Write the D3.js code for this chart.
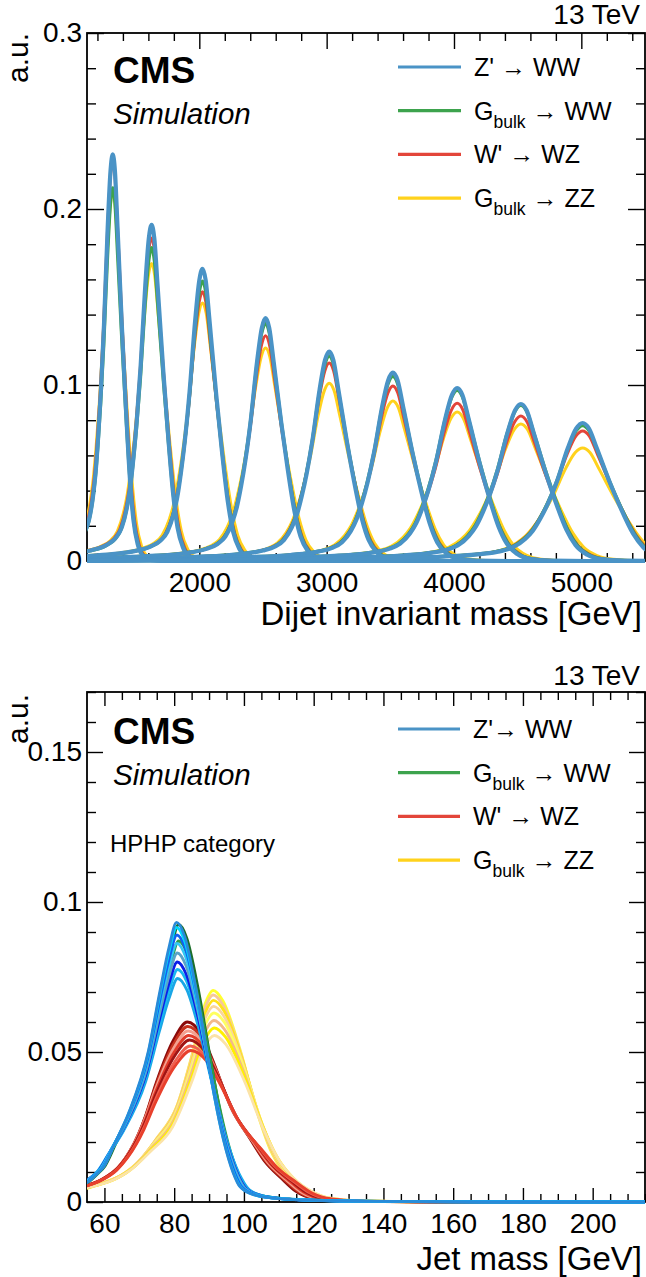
<!DOCTYPE html>
<html><head><meta charset="utf-8">
<script src="https://cdn.jsdelivr.net/npm/d3@7"></script>
<style>
html,body{margin:0;padding:0;background:#fff;}
svg{display:block;}
</style>
</head><body>
<svg id="c" width="646" height="1277"></svg>
<script>
// ===================== DATA =====================
// ---- top panel: dijet invariant mass ----
const topSeriesNames = ["Z' \u2192 WW", "G|bulk| \u2192 WW", "W' \u2192 WZ", "G|bulk| \u2192 ZZ"];
const topSeriesColors = ["#4a93c6", "#3da34d", "#e3453a", "#ffd21c"];
const topPeakMass = [1320, 1625, 2025, 2520, 3020, 3520, 4025, 4525, 5010];   // GeV, peak position
const topPeakZprimeWW = [0.231, 0.191, 0.166, 0.138, 0.119, 0.107, 0.0983, 0.0892, 0.0784];
const topPeakGbulkWW  = [0.212, 0.178, 0.159, 0.135, 0.1165, 0.105, 0.097, 0.0885, 0.077];
const topPeakWprimeWZ = [0.227, 0.1835, 0.153, 0.128, 0.1125, 0.0994, 0.0896, 0.0824, 0.0739];
const topPeakGbulkZZ  = [0.210, 0.169, 0.1466, 0.121, 0.101, 0.0909, 0.0846, 0.0778, 0.0642];
// relative width of each mass point (peak width / M, relative to the 5 TeV shape)
const topMassWidth = [1.30, 1.32, 1.25, 1.15, 1.08, 1.04, 1.02, 1.00, 1.00];
// relative width of each signal (blue, green, red, yellow)
const topSeriesWidth = [1.00, 1.03, 1.06, 1.15];
// shape: [ (m - M)/M , value / peak ]
const topShape = [
  [-0.80, 0.000], [-0.60, 0.006], [-0.45, 0.012], [-0.32, 0.020], [-0.22, 0.032],
  [-0.16, 0.050], [-0.13, 0.070], [-0.109, 0.10], [-0.090, 0.16], [-0.078, 0.22],
  [-0.066, 0.31], [-0.054, 0.42], [-0.040, 0.58], [-0.023, 0.82], [-0.010, 0.96],
  [0.000, 1.000], [0.010, 0.96], [0.022, 0.82], [0.043, 0.565], [0.059, 0.39],
  [0.079, 0.20], [0.095, 0.10], [0.115, 0.04], [0.140, 0.012], [0.180, 0.002], [0.250, 0.000]
];
const topXMajor = [2000, 3000, 4000, 5000];
const topYMajor = [0, 0.1, 0.2, 0.3];

// ---- bottom panel: jet mass, HPHP category ----
const botSeriesNames = ["Z'\u2192 WW", "G|bulk| \u2192 WW", "W' \u2192 WZ", "G|bulk| \u2192 ZZ"];
const botLegendColors = ["#4a93c6", "#3da34d", "#e3453a", "#ffd21c"];
// reference shapes [jet mass GeV, value / peak]
const blueShape = [[40,0.03],[55,0.070],[57.8,0.100],[60,0.13],[63,0.21],[67,0.32],[72.6,0.54],[76,0.76],[78.5,0.91],[80.7,1],[83,0.95],[86,0.78],[89.3,0.54],[91.5,0.38],[94.1,0.224],[96.9,0.105],[98.9,0.054],[103,0.025],[110,0.012],[120,0.006],[140,0.002],[170,0.0005],[220,0]];
const redShape  = [[40,0.03],[55,0.09],[60,0.13],[65,0.21],[70,0.38],[72,0.48],[75,0.66],[80,0.90],[84,1],[88,0.93],[91,0.80],[96.6,0.52],[102,0.35],[106,0.23],[111,0.13],[115,0.06],[120,0.02],[130,0.004],[150,0.001],[220,0]];
const yellowShape = [[40,0.02],[55,0.065],[60,0.09],[66.5,0.14],[70,0.19],[75,0.30],[80.7,0.45],[85.5,0.72],[88.5,0.92],[91.2,1],[94,0.95],[98.9,0.72],[103.7,0.43],[107.5,0.25],[111.3,0.14],[116,0.06],[120,0.025],[130,0.005],[150,0.001],[220,0]];
const blueRefPeak = 80.7, redRefPeak = 84, yellowRefPeak = 91.2;
// individual mass points of each family: peak value, peak position, width factor, colour
const zprimeHeights = [0.0932, 0.0915, 0.0890, 0.0862, 0.0830, 0.0800, 0.0775, 0.0745];
const zprimePeaks   = [80.7, 80.7, 80.8, 80.8, 80.9, 80.9, 81.0, 81.0];
const zprimeWidths  = [1.00, 1.01, 1.03, 1.05, 1.07, 1.09, 1.11, 1.13];
const zprimeColors  = ["#2a8ad8", "#00d8ff", "#1060f0", "#33c8f5", "#5aa3c8", "#0a1ee8", "#18b8f0", "#1aa6e6"];
const gwwHeights = [0.0925, 0.0870];
const gwwPeaks   = [81.3, 81.3];
const gwwWidths  = [1.02, 1.06];
const gwwColors  = ["#1b6e2a", "#2e9b4a"];
const wprimeHeights = [0.0600, 0.0585, 0.0570, 0.0555, 0.0540, 0.0520, 0.0505];
const wprimePeaks   = [83.8, 83.9, 84.0, 84.2, 84.4, 84.6, 84.8];
const wprimeWidths  = [1.00, 1.02, 1.04, 1.06, 1.08, 1.10, 1.12];
const wprimeColors  = ["#8b0a0a", "#c8321e", "#f4a090", "#e23b2a", "#a01414", "#f06050", "#e8402c"];
const gzzHeights = [0.0705, 0.0690, 0.0672, 0.0652, 0.0630, 0.0605, 0.0580, 0.0555];
const gzzPeaks   = [91.2, 91.2, 91.3, 91.3, 91.4, 91.4, 91.5, 91.5];
const gzzWidths  = [1.00, 1.02, 1.04, 1.06, 1.08, 1.10, 1.12, 1.14];
const gzzColors  = ["#ffff30", "#f6c79a", "#ffe21a", "#f9d59c", "#ffff60", "#f3b98a", "#fff000", "#fbe3a8"];
const botXMajor = [60, 80, 100, 120, 140, 160, 180, 200];
const botYMajor = [0, 0.05, 0.1, 0.15];

// ===================== DRAWING =====================
const FONT = '"Liberation Sans", Arial, Helvetica, sans-serif';
const svg = d3.select("#c").attr("font-family", FONT);

function drawAxes(g, x, y, o) {
  const [y0, y1] = y.range(), [x0, x1] = x.range();
  const style = sel => {
    sel.select(".domain").remove();
    sel.selectAll(".tick line").attr("stroke", "#000").attr("stroke-width", 1.4);
    sel.selectAll(".tick text").attr("font-size", 28).attr("font-family", FONT).attr("fill", "#000");
  };
  g.append("rect").attr("x", x0).attr("y", y1).attr("width", x1 - x0).attr("height", y0 - y1)
    .attr("fill", "none").attr("stroke", "#000").attr("stroke-width", 1.8);
  g.append("g").attr("transform", `translate(0,${y0})`)
    .call(d3.axisBottom(x).tickValues(o.xMinor).tickSizeInner(-o.xm).tickSizeOuter(0).tickFormat("")).call(style);
  g.append("g").attr("transform", `translate(0,${y0})`)
    .call(d3.axisBottom(x).tickValues(o.xMajor).tickSizeInner(-o.xM).tickSizeOuter(0).tickPadding(11).tickFormat(d => String(d))).call(style);
  g.append("g").attr("transform", `translate(0,${y1})`)
    .call(d3.axisTop(x).tickValues(o.xMinor).tickSizeInner(-o.xm).tickSizeOuter(0).tickFormat("")).call(style);
  g.append("g").attr("transform", `translate(0,${y1})`)
    .call(d3.axisTop(x).tickValues(o.xMajor).tickSizeInner(-o.xM).tickSizeOuter(0).tickFormat("")).call(style);
  g.append("g").attr("transform", `translate(${x0},0)`)
    .call(d3.axisLeft(y).tickValues(o.yMinor).tickSizeInner(-o.ym).tickSizeOuter(0).tickFormat("")).call(style);
  g.append("g").attr("transform", `translate(${x0},0)`)
    .call(d3.axisLeft(y).tickValues(o.yMajor).tickSizeInner(-o.yM).tickSizeOuter(0).tickPadding(5).tickFormat(d => String(d))).call(style);
  g.append("g").attr("transform", `translate(${x1},0)`)
    .call(d3.axisRight(y).tickValues(o.yMinor).tickSizeInner(-o.ym).tickSizeOuter(0).tickFormat("")).call(style);
  g.append("g").attr("transform", `translate(${x1},0)`)
    .call(d3.axisRight(y).tickValues(o.yMajor).tickSizeInner(-o.yM).tickSizeOuter(0).tickFormat("")).call(style);
}

// label syntax: "G|bulk| → WW"  (text between bars is a subscript)
function legendLabel(t, x, y, label, size) {
  const parts = label.split("|");
  const txt = t.append("text").attr("x", x).attr("y", y).attr("font-size", size).attr("dy", "0.36em").attr("fill", "#000")
    .attr("xml:space", "preserve");
  if (parts.length === 1) { txt.text(label); return; }
  txt.append("tspan").text(parts[0]);
  txt.append("tspan").attr("font-size", size * 0.7).attr("dy", size * 0.33).text(parts[1]);
  txt.append("tspan").attr("dy", -size * 0.33).text(parts[2]);
}

function header(g, yTopFrame) {
  g.append("text").attr("x", 640).attr("y", yTopFrame - 9).attr("text-anchor", "end")
    .attr("font-size", 28).text("13 TeV");
  g.append("text").attr("transform", `translate(28,${yTopFrame}) rotate(-90)`).attr("text-anchor", "end")
    .attr("font-size", 30).text("a.u.");
  g.append("text").attr("x", 113).attr("y", yTopFrame + 50).attr("font-size", 37).attr("font-weight", "bold").text("CMS");
  g.append("text").attr("x", 113).attr("y", yTopFrame + 91).attr("font-size", 29.5).attr("font-style", "italic").text("Simulation");
}

// ---------------- top panel ----------------
const xT = d3.scaleLinear().domain([1118, 5500]).range([87, 645]);
const yT = d3.scaleLinear().domain([0, 0.3]).range([561, 33]);
const gT = svg.append("g");
svg.append("clipPath").attr("id", "clipT").append("rect").attr("x", 87).attr("y", 33).attr("width", 558).attr("height", 530);
drawAxes(gT, xT, yT, {
  xMajor: topXMajor, xMinor: d3.range(1200, 5500, 200).filter(v => v % 1000 !== 0),
  yMajor: topYMajor, yMinor: d3.range(1, 15).map(k => +(k * 0.02).toFixed(2)).filter(v => Math.abs(v * 10 - Math.round(v * 10)) > 1e-6),
  xM: 16, xm: 8, yM: 17, ym: 9
});
const lineT = d3.line().x(d => xT(d[0])).y(d => yT(d[1])).curve(d3.curveMonotoneX);
const topPeaks = [topPeakZprimeWW, topPeakGbulkWW, topPeakWprimeWZ, topPeakGbulkZZ];
const topWidths = [4.2, 3.4, 3.0, 3.0];
const curvesT = gT.append("g").attr("clip-path", "url(#clipT)");
[3, 2, 1, 0].forEach(s => {
  topPeakMass.forEach((M, i) => {
    const wf = topMassWidth[i] * topSeriesWidth[s];
    let pts = topShape.map(([r, v]) => [M * (1 + r * wf), topPeaks[s][i] * v]);
    if (pts[0][0] > 1118) pts.unshift([1000, 0]);
    if (pts[pts.length - 1][0] < 5500) pts.push([5600, 0]);
    curvesT.append("path").attr("d", lineT(pts)).attr("fill", "none")
      .attr("stroke", topSeriesColors[s]).attr("stroke-width", topWidths[s]).attr("stroke-linejoin", "round");
  });
});
header(gT, 33);
gT.append("text").attr("x", 642).attr("y", 625).attr("text-anchor", "end").attr("font-size", 33).text("Dijet invariant mass [GeV]");
const legT = gT.append("g");
topSeriesNames.forEach((n, i) => {
  const yy = 67 + i * 43.7;
  legT.append("line").attr("x1", 398).attr("x2", 461).attr("y1", yy).attr("y2", yy).attr("stroke", topSeriesColors[i]).attr("stroke-width", 3.2);
  legendLabel(legT, 474, yy, n, 25);
});

// ---------------- bottom panel ----------------
const xB = d3.scaleLinear().domain([55, 215]).range([87, 645]);
const yB = d3.scaleLinear().domain([0, 0.17]).range([1202, 692]);
const gB = svg.append("g");
svg.append("clipPath").attr("id", "clipB").append("rect").attr("x", 87).attr("y", 692).attr("width", 558).attr("height", 512);
function k5(v) { return Math.abs(v * 20 - Math.round(v * 20)) > 1e-6; }
drawAxes(gB, xB, yB, {
  xMajor: botXMajor, xMinor: d3.range(60, 216, 5).filter(v => v % 20 !== 0),
  yMajor: botYMajor, yMinor: d3.range(1, 18).map(k => +(k * 0.01).toFixed(2)).filter(v => k5(v)),
  xM: 14, xm: 8, yM: 16, ym: 9
});
const lineB = d3.line().x(d => xB(d[0])).y(d => yB(d[1])).curve(d3.curveMonotoneX);
const curvesB = gB.append("g").attr("clip-path", "url(#clipB)");
function family(shape, refPeak, heights, peaks, widths, colors) {
  heights.forEach((h, i) => {
    const pts = shape.map(([m, v]) => [peaks[i] + (m - refPeak) * widths[i], h * v]);
    curvesB.append("path").attr("d", lineB(pts)).attr("fill", "none")
      .attr("stroke", colors[i]).attr("stroke-width", 2.8);
  });
}
family(yellowShape, yellowRefPeak, gzzHeights, gzzPeaks, gzzWidths, gzzColors);
family(redShape, redRefPeak, wprimeHeights, wprimePeaks, wprimeWidths, wprimeColors);
family(blueShape, blueRefPeak, gwwHeights, gwwPeaks, gwwWidths, gwwColors);
family(blueShape, blueRefPeak, zprimeHeights.slice().reverse(), zprimePeaks.slice().reverse(), zprimeWidths.slice().reverse(), zprimeColors.slice().reverse());
header(gB, 694);
gB.append("text").attr("x", 110).attr("y", 852).attr("font-size", 24).text("HPHP category");
gB.append("text").attr("x", 642).attr("y", 1270).attr("text-anchor", "end").attr("font-size", 33).text("Jet mass [GeV]");
const legB = gB.append("g");
botSeriesNames.forEach((n, i) => {
  const yy = 729 + i * 43.7;
  legB.append("line").attr("x1", 398).attr("x2", 460).attr("y1", yy).attr("y2", yy).attr("stroke", botLegendColors[i]).attr("stroke-width", 3.2);
  legendLabel(legB, 473, yy, n, 25);
});
</script>
</body></html>
